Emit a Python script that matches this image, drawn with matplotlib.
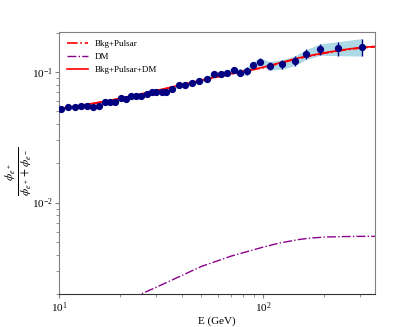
import numpy as np
import matplotlib
matplotlib.use("Agg")
import matplotlib.pyplot as plt

plt.rcParams['font.family'] = ['Liberation Serif', 'DejaVu Serif']
plt.rcParams['mathtext.fontset'] = 'stix'

# positron fraction data points
energy = [10.2, 11.1, 12.0, 12.8, 13.8, 14.7, 15.7, 16.8, 17.8, 18.8, 20.1, 21.3,
          22.5, 24.0, 25.4, 26.9, 28.5, 30.1, 31.9, 33.7, 35.7, 38.7, 41.5, 44.7,
          48.5, 53.0, 57.5, 62.1, 66.8, 71.8, 77.4, 83.2, 89.6, 96.7, 107.9, 124.3,
          143.0, 163.0, 191.0, 233.0, 305.0]
fraction = [0.0521, 0.0537, 0.0542, 0.0549, 0.0549, 0.0542, 0.0552, 0.0593, 0.0586,
            0.0593, 0.0636, 0.0618, 0.0659, 0.0655, 0.0659, 0.0679, 0.0707, 0.0707,
            0.0700, 0.0707, 0.0738, 0.0795, 0.0795, 0.0820, 0.0850, 0.0884, 0.0965,
            0.0965, 0.0988, 0.1036, 0.0988, 0.1018, 0.1126, 0.1199, 0.1117, 0.1145,
            0.1220, 0.1366, 0.1492, 0.1518, 0.1561]
error = [0.0012, 0.0012, 0.0012, 0.0012, 0.0012, 0.0013, 0.0013, 0.0013, 0.0014,
         0.0014, 0.0015, 0.0015, 0.0016, 0.0016, 0.0017, 0.0017, 0.0018, 0.0019,
         0.0020, 0.0021, 0.0022, 0.0024, 0.0026, 0.0028, 0.0031, 0.0034, 0.0038,
         0.0042, 0.0047, 0.0053, 0.0060, 0.0066, 0.0072, 0.0078, 0.0085, 0.0095,
         0.0105, 0.0120, 0.0150, 0.0185, 0.0240]

# model curves
model_e = [10, 15, 20, 30, 50, 70, 100, 150, 200, 250, 300, 354]
bkg_pulsar = [0.0520, 0.0575, 0.0625, 0.0715, 0.0860, 0.0965, 0.1075, 0.1270, 0.1390,
              0.1470, 0.1525, 0.1555]
bkg_pulsar_dm = [0.0522, 0.0578, 0.0628, 0.0720, 0.0866, 0.0972, 0.1085, 0.1282, 0.1402,
                 0.1482, 0.1537, 0.1568]
dm_e = [10, 15, 20, 30, 50, 70, 100, 120, 150, 170, 200, 250, 300, 354]
dm = [0.00105, 0.0014, 0.0017, 0.00225, 0.00325, 0.0039, 0.00456, 0.0049, 0.00522,
      0.00535, 0.00545, 0.0055, 0.00552, 0.00552]

fig = plt.figure(figsize=(3.95, 3.27), dpi=100)
ax = fig.add_axes([0.149, 0.101, 0.80, 0.801])

e = np.array(energy)
f = np.array(fraction)
err = np.array(error)
ax.fill_between(e, f - err, f + err, color='lightblue', lw=0, zorder=1)
ax.plot(model_e, bkg_pulsar, color='red', ls='-.', lw=1.2, label='Bkg+Pulsar', zorder=3)
ax.plot(dm_e, dm, color='darkmagenta', ls='-.', lw=1.0, label='DM', zorder=3)
ax.plot(model_e, bkg_pulsar_dm, color='red', ls='-', lw=1.2, label='Bkg+Pulsar+DM', zorder=3)
ax.errorbar(e, f, yerr=err, fmt='o', color='navy', ms=4.2, elinewidth=1.0, zorder=4)

ax.set_xscale('log')
ax.set_yscale('log')
ax.set_xlim(10, 354)
ax.set_ylim(0.002, 0.202)
ax.set_xlabel('E (GeV)', fontsize=8, labelpad=1)
ax.set_ylabel(r'$\frac{\phi_{e^+}}{\phi_{e^+}+\phi_{e^-}}$', fontsize=12)
ax.yaxis.set_label_coords(-0.08, 0.47)
ax.tick_params(labelsize=8, length=3, width=0.8, color='gray', pad=1.5)
ax.tick_params(which='minor', length=2, color='gray')
for s in ax.spines.values():
    s.set_color('gray')
ax.spines['bottom'].set_color('#333333')
ax.legend(loc='upper left', frameon=False, fontsize=6.5, handlelength=2.3)

fig.savefig('out.png', dpi=100)
